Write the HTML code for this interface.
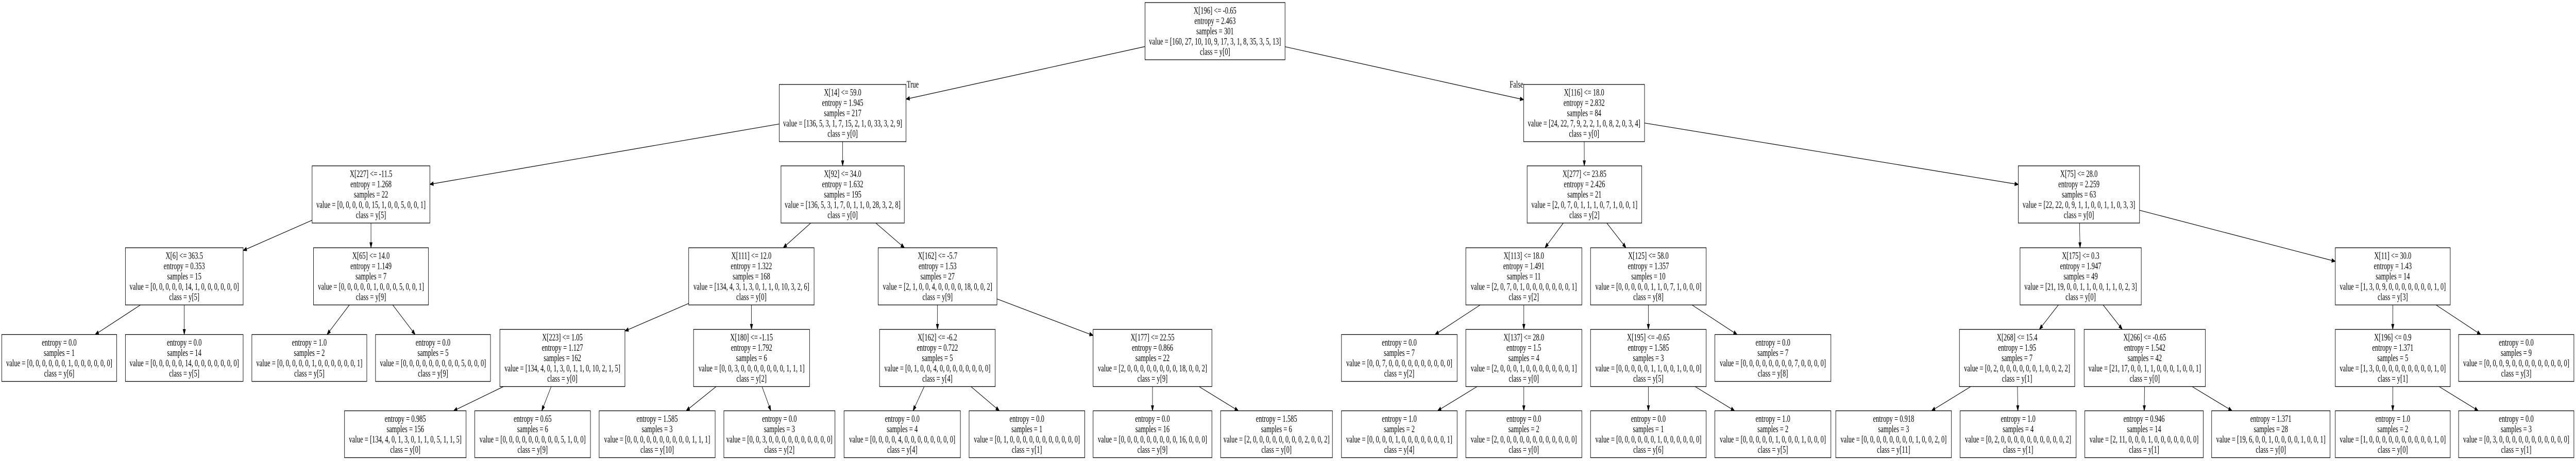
<!DOCTYPE html>
<html><head><meta charset="utf-8">
<style>
html,body{margin:0;padding:0;background:#fff;width:100%;height:100%;overflow:hidden;}
svg{display:block;width:100vw;height:100vh;}
text{font-family:"Liberation Serif","Times New Roman",serif;font-size:18.6px;fill:#000;}
</style></head>
<body>
<svg id="s" xmlns="http://www.w3.org/2000/svg" viewBox="0 0 7395 895" preserveAspectRatio="none"></svg>
<script>
var L={0:[5,116],1:[164,275],2:[322,433],3:[481,592],4:[639,751],5:[787,899]};
var N={};
function n(id,p,x1,x2,lv,lines){N[id]={id:id,p:p,x1:x1,x2:x2,lv:lv,lines:lines};}
function I(t,e,s,v,c){return [t,"entropy = "+e,"samples = "+s,"value = ["+v+"]","class = y["+c+"]"];}
function F(e,s,v,c){return ["entropy = "+e,"samples = "+s,"value = ["+v+"]","class = y["+c+"]"];}
n("r",null,3287,3689,0,I("X[196] &lt;= -0.65","2.463","301","160, 27, 10, 10, 9, 17, 3, 1, 8, 35, 3, 5, 13","0"));
n("n1","r",2237,2601,1,I("X[14] &lt;= 59.0","1.945","217","136, 5, 3, 1, 7, 15, 2, 1, 0, 33, 3, 2, 9","0"));
n("n2","n1",896,1234,2,I("X[227] &lt;= -11.5","1.268","22","0, 0, 0, 0, 0, 15, 1, 0, 0, 5, 0, 0, 1","5"));
n("n3","n1",2242,2596,2,I("X[92] &lt;= 34.0","1.632","195","136, 5, 3, 1, 7, 0, 1, 1, 0, 28, 3, 2, 8","0"));
n("n4","n2",360,698,3,I("X[6] &lt;= 363.5","0.353","15","0, 0, 0, 0, 0, 14, 1, 0, 0, 0, 0, 0, 0","5"));
n("n5","n2",900,1230,3,I("X[65] &lt;= 14.0","1.149","7","0, 0, 0, 0, 0, 1, 0, 0, 0, 5, 0, 0, 1","9"));
n("n4a","n4",5,335,4,F("0.0","1","0, 0, 0, 0, 0, 0, 1, 0, 0, 0, 0, 0, 0","6"));
n("n4b","n4",360,698,4,F("0.0","14","0, 0, 0, 0, 0, 14, 0, 0, 0, 0, 0, 0, 0","5"));
n("n5a","n5",723,1053,4,F("1.0","2","0, 0, 0, 0, 0, 1, 0, 0, 0, 0, 0, 0, 1","5"));
n("n5b","n5",1078,1408,4,F("0.0","5","0, 0, 0, 0, 0, 0, 0, 0, 0, 5, 0, 0, 0","9"));
n("n6","n3",1977,2337,3,I("X[111] &lt;= 12.0","1.322","168","134, 4, 3, 1, 3, 0, 1, 1, 0, 10, 3, 2, 6","0"));
n("n7","n3",2521,2862,3,I("X[162] &lt;= -5.7","1.53","27","2, 1, 0, 0, 4, 0, 0, 0, 0, 18, 0, 0, 2","9"));
n("n8","n6",1435,1794,4,I("X[223] &lt;= 1.05","1.127","162","134, 4, 0, 1, 3, 0, 1, 1, 0, 10, 2, 1, 5","0"));
n("n9","n6",1991,2324,4,I("X[180] &lt;= -1.15","1.792","6","0, 0, 3, 0, 0, 0, 0, 0, 0, 0, 1, 1, 1","2"));
n("n10","n7",2525,2857,4,I("X[162] &lt;= -6.2","0.722","5","0, 1, 0, 0, 4, 0, 0, 0, 0, 0, 0, 0, 0","4"));
n("n11","n7",3138,3479,4,I("X[177] &lt;= 22.55","0.866","22","2, 0, 0, 0, 0, 0, 0, 0, 0, 18, 0, 0, 2","9"));
n("n8a","n8",989,1338,5,F("0.985","156","134, 4, 0, 1, 3, 0, 1, 1, 0, 5, 1, 1, 5","0"));
n("n8b","n8",1363,1695,5,F("0.65","6","0, 0, 0, 0, 0, 0, 0, 0, 0, 5, 1, 0, 0","9"));
n("n9a","n9",1720,2053,5,F("1.585","3","0, 0, 0, 0, 0, 0, 0, 0, 0, 0, 1, 1, 1","10"));
n("n9b","n9",2078,2397,5,F("0.0","3","0, 0, 3, 0, 0, 0, 0, 0, 0, 0, 0, 0, 0","2"));
n("n10a","n10",2423,2757,5,F("0.0","4","0, 0, 0, 0, 4, 0, 0, 0, 0, 0, 0, 0, 0","4"));
n("n10b","n10",2782,3114,5,F("0.0","1","0, 1, 0, 0, 0, 0, 0, 0, 0, 0, 0, 0, 0","1"));
n("n11a","n11",3138,3479,5,F("0.0","16","0, 0, 0, 0, 0, 0, 0, 0, 0, 16, 0, 0, 0","9"));
n("n11b","n11",3504,3825,5,F("1.585","6","2, 0, 0, 0, 0, 0, 0, 0, 0, 2, 0, 0, 2","0"));
n("m1","r",4374,4721,1,I("X[116] &lt;= 18.0","2.832","84","24, 22, 7, 9, 2, 2, 1, 0, 8, 2, 0, 3, 4","0"));
n("m2","m1",4384,4713,2,I("X[277] &lt;= 23.85","2.426","21","2, 0, 7, 0, 1, 1, 1, 0, 7, 1, 0, 0, 1","2"));
n("m3","m1",5794,6142,2,I("X[75] &lt;= 28.0","2.259","63","22, 22, 0, 9, 1, 1, 0, 0, 1, 1, 0, 3, 3","0"));
n("m4","m2",4208,4541,3,I("X[113] &lt;= 18.0","1.491","11","2, 0, 7, 0, 1, 0, 0, 0, 0, 0, 0, 0, 1","2"));
n("m5","m2",4566,4898,3,I("X[125] &lt;= 58.0","1.357","10","0, 0, 0, 0, 0, 1, 1, 0, 7, 1, 0, 0, 0","8"));
n("m6","m3",5799,6147,3,I("X[175] &lt;= 0.3","1.947","49","21, 19, 0, 0, 1, 1, 0, 0, 1, 1, 0, 2, 3","0"));
n("m7","m3",6704,7034,3,I("X[11] &lt;= 30.0","1.43","14","1, 3, 0, 9, 0, 0, 0, 0, 0, 0, 0, 1, 0","3"));
n("m4a","m4",3851,4183,4,F("0.0","7","0, 0, 7, 0, 0, 0, 0, 0, 0, 0, 0, 0, 0","2"));
n("m8","m4",4208,4541,4,I("X[137] &lt;= 28.0","1.5","4","2, 0, 0, 0, 1, 0, 0, 0, 0, 0, 0, 0, 1","0"));
n("m9","m5",4566,4898,4,I("X[195] &lt;= -0.65","1.585","3","0, 0, 0, 0, 0, 1, 1, 0, 0, 1, 0, 0, 0","5"));
n("m5b","m5",4923,5256,4,F("0.0","7","0, 0, 0, 0, 0, 0, 0, 0, 7, 0, 0, 0, 0","8"));
n("m10","m6",5625,5956,4,I("X[268] &lt;= 15.4","1.95","7","0, 2, 0, 0, 0, 0, 0, 0, 1, 0, 0, 2, 2","1"));
n("m11","m6",5983,6331,4,I("X[266] &lt;= -0.65","1.542","42","21, 17, 0, 0, 1, 1, 0, 0, 0, 1, 0, 0, 1","0"));
n("m12","m7",6704,7034,4,I("X[196] &lt;= 0.9","1.371","5","1, 3, 0, 0, 0, 0, 0, 0, 0, 0, 0, 1, 0","1"));
n("m7b","m7",7058,7389,4,F("0.0","9","0, 0, 0, 9, 0, 0, 0, 0, 0, 0, 0, 0, 0","3"));
n("m8a","m8",3851,4183,5,F("1.0","2","0, 0, 0, 0, 1, 0, 0, 0, 0, 0, 0, 0, 1","4"));
n("m8b","m8",4208,4541,5,F("0.0","2","2, 0, 0, 0, 0, 0, 0, 0, 0, 0, 0, 0, 0","0"));
n("m9a","m9",4566,4898,5,F("0.0","1","0, 0, 0, 0, 0, 0, 1, 0, 0, 0, 0, 0, 0","6"));
n("m9b","m9",4923,5256,5,F("1.0","2","0, 0, 0, 0, 0, 1, 0, 0, 0, 1, 0, 0, 0","5"));
n("m10a","m10",5270,5602,5,F("0.918","3","0, 0, 0, 0, 0, 0, 0, 0, 1, 0, 0, 2, 0","11"));
n("m10b","m10",5627,5960,5,F("1.0","4","0, 2, 0, 0, 0, 0, 0, 0, 0, 0, 0, 0, 2","1"));
n("m11a","m11",5985,6325,5,F("0.946","14","2, 11, 0, 0, 0, 1, 0, 0, 0, 0, 0, 0, 0","1"));
n("m11b","m11",6349,6689,5,F("1.371","28","19, 6, 0, 0, 1, 0, 0, 0, 0, 1, 0, 0, 1","0"));
n("m12a","m12",6704,7034,5,F("1.0","2","1, 0, 0, 0, 0, 0, 0, 0, 0, 0, 0, 1, 0","0"));
n("m12b","m12",7058,7389,5,F("0.0","3","0, 3, 0, 0, 0, 0, 0, 0, 0, 0, 0, 0, 0","1"));

var out=[];
for(var k in N){var d=N[k];var cy=(L[d.lv][0]+L[d.lv][1])/2;var h=d.lines.length==5?111:91;
 d.cx=(d.x1+d.x2)/2;d.cy=cy;d.hw=(d.x2-d.x1)/2;d.hh=h/2;}
function clip(d,dx,dy){var t=Math.min(Math.abs(dx)>1e-9?d.hw/Math.abs(dx):1e9,Math.abs(dy)>1e-9?d.hh/Math.abs(dy):1e9);return [d.cx+dx*t,d.cy+dy*t];}
for(var k in N){var d=N[k];if(!d.p)continue;var p=N[d.p];
 var dx=d.cx-p.cx,dy=d.cy-p.cy;var len=Math.sqrt(dx*dx+dy*dy);var ux=dx/len,uy=dy/len;
 var a=clip(p,ux,uy),b=clip(d,-ux,-uy);
 var AL=10,AW=3.6;var bx=b[0]-ux*AL,by=b[1]-uy*AL;
 out.push('<line x1="'+a[0].toFixed(1)+'" y1="'+a[1].toFixed(1)+'" x2="'+bx.toFixed(1)+'" y2="'+by.toFixed(1)+'" stroke="#000" stroke-width="1.2"/>');
 out.push('<polygon points="'+b[0].toFixed(1)+','+b[1].toFixed(1)+' '+(bx-uy*AW).toFixed(1)+','+(by+ux*AW).toFixed(1)+' '+(bx+uy*AW).toFixed(1)+','+(by-ux*AW).toFixed(1)+'" fill="#000" stroke="#000" stroke-width="1"/>');
}
for(var k in N){var d=N[k];var y1=d.cy-d.hh;
 out.push('<rect x="'+d.x1+'" y="'+y1+'" width="'+(d.x2-d.x1)+'" height="'+(2*d.hh)+'" fill="#fff" stroke="#000" stroke-width="1.3"/>');
 var nl=d.lines.length;for(var i=0;i<nl;i++){var ly=d.cy+(i-(nl-1)/2)*20+6;
  out.push('<text x="'+d.cx+'" y="'+ly.toFixed(1)+'" text-anchor="middle">'+d.lines[i]+'</text>');}
}
out.push('<text x="2603" y="170" text-anchor="start">True</text>');
out.push('<text x="4373" y="170" text-anchor="end">False</text>');
document.getElementById("s").innerHTML=out.join("");
</script>
</body></html>
